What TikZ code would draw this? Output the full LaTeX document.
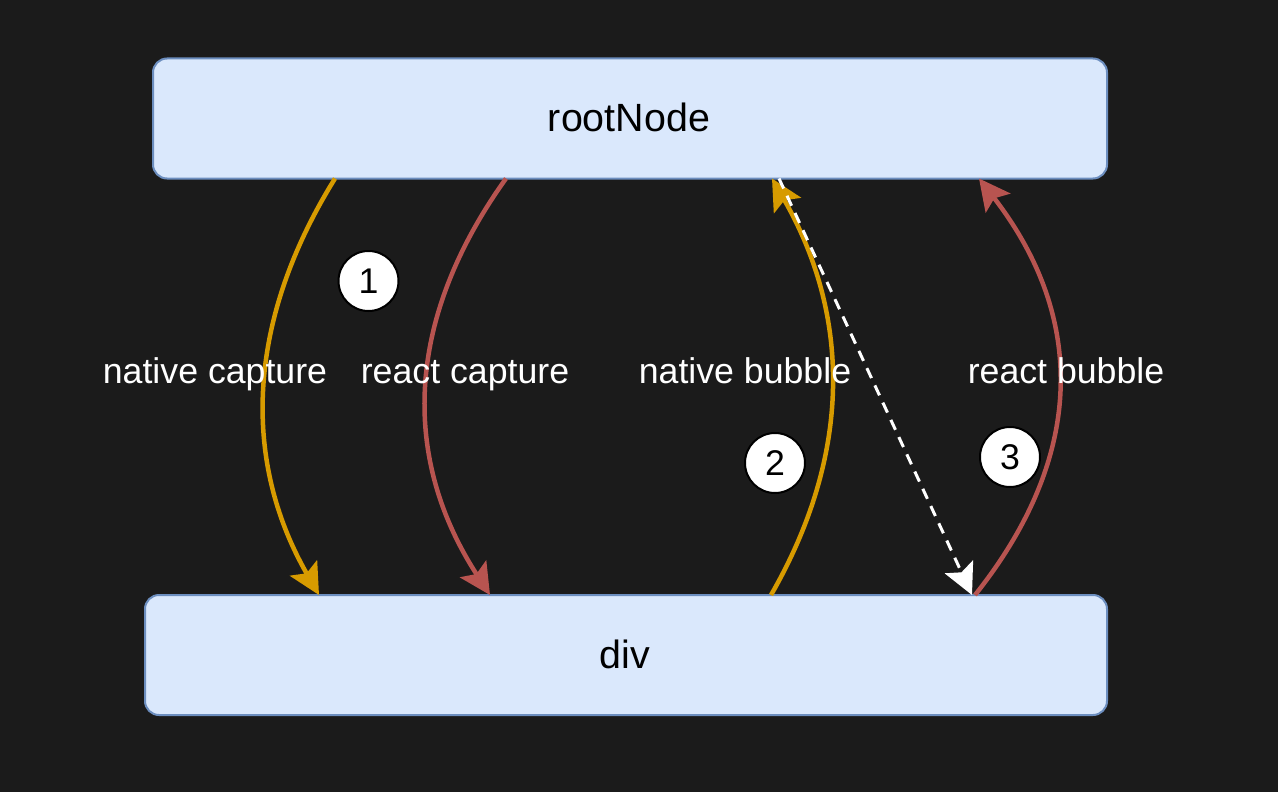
\documentclass[tikz,border=0pt]{standalone}
\usepackage{fontspec}
\setmainfont{Liberation Sans}
\usepackage{tikz}
\usetikzlibrary{arrows.meta}
\definecolor{bgdark}{HTML}{1B1B1B}
\definecolor{boxfill}{HTML}{DAE8FC}
\definecolor{boxline}{HTML}{6C8EBF}
\definecolor{nativeline}{HTML}{D79B00}
\definecolor{reactline}{HTML}{B85450}

\begin{document}
\begin{tikzpicture}[x=1pt,y=-1pt,
  box/.style={draw=boxline,fill=boxfill,line width=2pt,rounded corners=14pt,outer sep=0pt,font=\fontsize{39.4}{46}\selectfont},
  lbl/.style={text=white,anchor=base,font=\fontsize{35.7}{42}\selectfont},
  badge/.style={circle,draw=black,fill=white,line width=2pt,minimum size=60pt,inner sep=0pt,font=\fontsize{35.7}{42}\selectfont},
  flow/.style={line width=4.5pt,-{Stealth[length=31pt,width=31pt,inset=6pt]}}]
\fill[bgdark] (0,0) rectangle (1278,792);
\node[box,minimum width=954pt,minimum height=120pt] (root) at (630,118.5) {};
\node[box,minimum width=962pt,minimum height=120pt] (div) at (626,655) {};
\node[anchor=base,font=\fontsize{39.4}{46}\selectfont] (roottxt) at (629,131.5) {rootNode};
\node[anchor=base,font=\fontsize{39.4}{46}\selectfont] (divtxt) at (625,668) {div};

\draw[flow,nativeline] ([xshift=-295pt]root.south) .. controls (247,320) and (241,459) .. ([xshift=-307pt]div.north);
\draw[flow,reactline] ([xshift=-124pt]root.south) .. controls (406,318) and (400,456) .. ([xshift=-136pt]div.north);
\draw[flow,nativeline] ([xshift=145pt]div.north) .. controls (851,456) and (852,318) .. ([xshift=142pt]root.south);
\draw[flow,reactline] ([xshift=349pt]div.north) .. controls (1085,457) and (1087,318) .. ([xshift=349pt]root.south);
\draw[flow,white,line width=3pt,dash pattern=on 11pt off 8pt] ([xshift=149pt]root.south) -- ([xshift=346pt]div.north);

\node[lbl] (ncap) at (215,383.5) {native capture};
\node[lbl] (rcap) at (465,383.5) {react capture};
\node[lbl] (nbub) at (745,383.5) {native bubble};
\node[lbl] (rbub) at (1066,383.5) {react bubble};

\node[badge] (one) at (368.5,281) {1};
\node[badge] (two) at (775,463) {2};
\node[badge] (three) at (1010,457) {3};
\end{tikzpicture}
\end{document}
